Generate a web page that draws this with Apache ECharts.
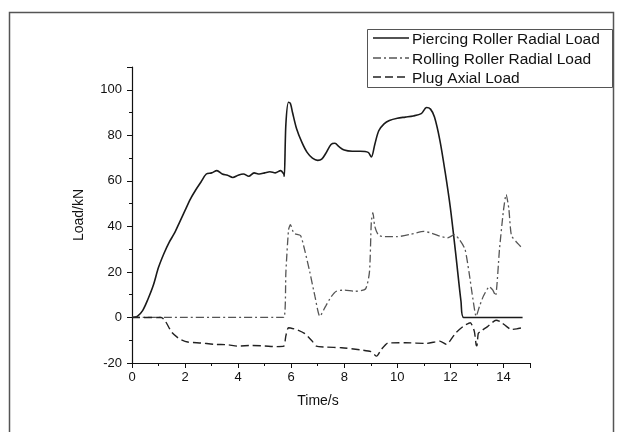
<!DOCTYPE html>
<html>
<head>
<meta charset="utf-8">
<script src="https://cdn.jsdelivr.net/npm/echarts@6/dist/echarts.min.js"></script>
<style>html,body{margin:0;padding:0;background:#fff;}#c{width:624px;height:432px;}</style>
</head>
<body>
<div id="c"></div>
<script>
// ---- data ----
const seriesNames = ['Piercing Roller Radial Load', 'Rolling Roller Radial Load', 'Plug Axial Load'];
const xTickLabels = [0, 2, 4, 6, 8, 10, 12, 14];
const yTickLabels = [-20, 0, 20, 40, 60, 80, 100];

const piercingT = [0, 0.2, 0.4, 0.6, 0.8, 1.0, 1.2, 1.4, 1.6, 1.8, 2.0, 2.2, 2.4, 2.6, 2.8, 3.0, 3.2, 3.4, 3.6, 3.8, 4.0, 4.2, 4.4, 4.6, 4.8, 5.0, 5.2, 5.4, 5.6, 5.72, 5.74, 5.8, 5.9, 5.97, 6.05, 6.2, 6.4, 6.6, 6.8, 7.0, 7.15, 7.3, 7.5, 7.65, 7.8, 8.0, 8.3, 8.6, 8.9, 9.02, 9.15, 9.3, 9.5, 9.7, 10.0, 10.3, 10.6, 10.9, 11.1, 11.25, 11.4, 11.6, 11.8, 12.0, 12.2, 12.4, 12.5, 13.0, 14.0, 14.72];
const piercingV = [0, 0.5, 3, 8, 14, 22, 28, 33, 37, 42, 47, 52, 56, 59.5, 63, 63.5, 64.5, 63, 62.5, 61.5, 62.5, 63, 62, 63.5, 63, 63.5, 64, 63.5, 64.5, 63, 62, 85, 94.5, 94, 90, 83, 77, 72.5, 70, 69, 69.5, 72, 76, 76.5, 75, 73.5, 73, 73, 72.5, 70.5, 76, 82, 85, 86.5, 87.5, 88, 88.5, 89.5, 92.2, 91.5, 88, 78, 64, 48, 28, 7, 0, 0, 0, 0];

const rollingT = [0, 5.72, 5.8, 5.9, 5.97, 6.1, 6.35, 6.5, 6.7, 6.9, 7.08, 7.3, 7.5, 7.7, 8.0, 8.4, 8.8, 8.95, 9.02, 9.08, 9.15, 9.3, 9.6, 10.0, 10.5, 11.0, 11.3, 11.6, 11.9, 12.15, 12.35, 12.55, 12.7, 12.85, 12.97, 13.1, 13.25, 13.47, 13.6, 13.7, 13.85, 14.0, 14.1, 14.2, 14.3, 14.5, 14.7];
const rollingV = [0, 0, 20, 38.5, 40.8, 37, 36, 30, 20, 9, 0.5, 5, 9, 11.5, 12, 11.5, 12.5, 20, 42, 46, 40, 36, 35.5, 35.5, 36.5, 37.8, 37, 35.7, 35, 36.4, 34, 30, 20, 8, 0.5, 5, 9.5, 13.5, 12, 9.5, 30, 47, 54, 48, 36, 33, 30.5];

const plugT = [0, 1.1, 1.25, 1.5, 1.8, 2.1, 2.6, 3.1, 3.6, 4.0, 4.5, 5.0, 5.4, 5.72, 5.8, 5.9, 6.2, 6.5, 6.8, 6.95, 7.3, 7.9, 8.6, 9.0, 9.22, 9.4, 9.65, 10.3, 11.1, 11.6, 11.85, 12.2, 12.5, 12.75, 12.9, 12.97, 13.0, 13.05, 13.15, 13.4, 13.72, 13.9, 14.1, 14.3, 14.5, 14.72];
const plugV = [0, 0, -1.5, -6.5, -9.5, -10.8, -11.2, -11.8, -12, -12.6, -12.3, -12.5, -12.8, -12.6, -8, -4.5, -5.3, -7, -10.5, -12.6, -13, -13.3, -14.2, -15, -17, -14, -11.2, -11.1, -11.4, -10.4, -11.8, -6.8, -3.8, -2.3, -6, -12, -12.5, -7, -6, -4, -1.2, -2, -3.8, -5.3, -5, -4.5];

function pairs(t, v) { return t.map((x, i) => [x, v[i]]); }

const FONT = 'Liberation Sans, Arial, sans-serif';
const styles = [
  {color: '#1a1a1a', width: 1.6, dash: null},
  {color: '#555', width: 1.3, dash: [8, 3, 2, 3]},
  {color: '#222', width: 1.4, dash: [8, 4]}
];

// legend drawn as graphic elements (line samples + text)
const legendRows = [38, 58, 77];
const legendGraphic = [{
  type: 'rect', silent: true,
  shape: {x: 367.5, y: 29.5, width: 245, height: 58},
  style: {fill: '#fff', stroke: '#555', lineWidth: 1}
}];
seriesNames.forEach((n, i) => {
  legendGraphic.push({
    type: 'line', silent: true,
    shape: {x1: 373, y1: legendRows[i], x2: 409, y2: legendRows[i]},
    style: {stroke: styles[i].color, lineWidth: styles[i].width, lineDash: styles[i].dash}
  });
  legendGraphic.push({
    type: 'text', silent: true, x: 412, y: legendRows[i] + 1.5,
    style: {text: n, font: '15.5px ' + FONT, fill: '#111', verticalAlign: 'middle', align: 'left'}
  });
});

const chart = echarts.init(document.getElementById('c'), null, {renderer: 'canvas'});
chart.setOption({
  animation: false,
  backgroundColor: '#fff',
  graphic: [{
    type: 'rect', silent: true,
    shape: {x: 9.5, y: 12.5, width: 604, height: 440},
    style: {fill: 'none', stroke: '#555', lineWidth: 1.5}
  }].concat(legendGraphic),
  grid: {left: 132, right: 94, top: 67, bottom: 69, containLabel: false},
  xAxis: {
    type: 'value', min: 0, max: 15, interval: 2,
    name: 'Time/s', nameLocation: 'middle', nameGap: 31,
    nameTextStyle: {fontFamily: FONT, fontSize: 14, color: '#111', padding: [0, 26, 0, 0]},
    axisLine: {show: true, onZero: false, lineStyle: {color: '#111', width: 1.2}},
    axisTick: {show: true, inside: false, length: 5, lineStyle: {color: '#111'}},
    minorTick: {show: true, splitNumber: 2, length: 3, lineStyle: {color: '#111'}},
    splitLine: {show: false},
    axisLabel: {fontFamily: FONT, fontSize: 13, color: '#111', margin: 8, showMaxLabel: false,
      formatter: v => xTickLabels.includes(v) ? String(v) : ''}
  },
  yAxis: {
    type: 'value', min: -20, max: 110, interval: 20,
    name: 'Load/kN', nameLocation: 'middle', nameGap: 46, nameRotate: 90,
    nameTextStyle: {fontFamily: FONT, fontSize: 14, color: '#111'},
    axisLine: {show: true, onZero: false, lineStyle: {color: '#111', width: 1.2}},
    axisTick: {show: true, inside: false, length: 5, lineStyle: {color: '#111'}},
    minorTick: {show: true, splitNumber: 2, length: 3, lineStyle: {color: '#111'}},
    splitLine: {show: false},
    axisLabel: {fontFamily: FONT, fontSize: 13, color: '#111', margin: 10, showMaxLabel: false,
      formatter: v => yTickLabels.includes(v) ? String(v) : ''}
  },
  series: [
    {name: seriesNames[0], type: 'line', data: pairs(piercingT, piercingV), symbol: 'none', smooth: 0.3,
      lineStyle: {color: styles[0].color, width: styles[0].width, type: 'solid'}},
    {name: seriesNames[1], type: 'line', data: pairs(rollingT, rollingV), symbol: 'none', smooth: 0.2,
      lineStyle: {color: styles[1].color, width: styles[1].width, type: styles[1].dash}},
    {name: seriesNames[2], type: 'line', data: pairs(plugT, plugV), symbol: 'none', smooth: 0.2,
      lineStyle: {color: styles[2].color, width: styles[2].width, type: styles[2].dash}}
  ]
});
</script>
</body>
</html>
